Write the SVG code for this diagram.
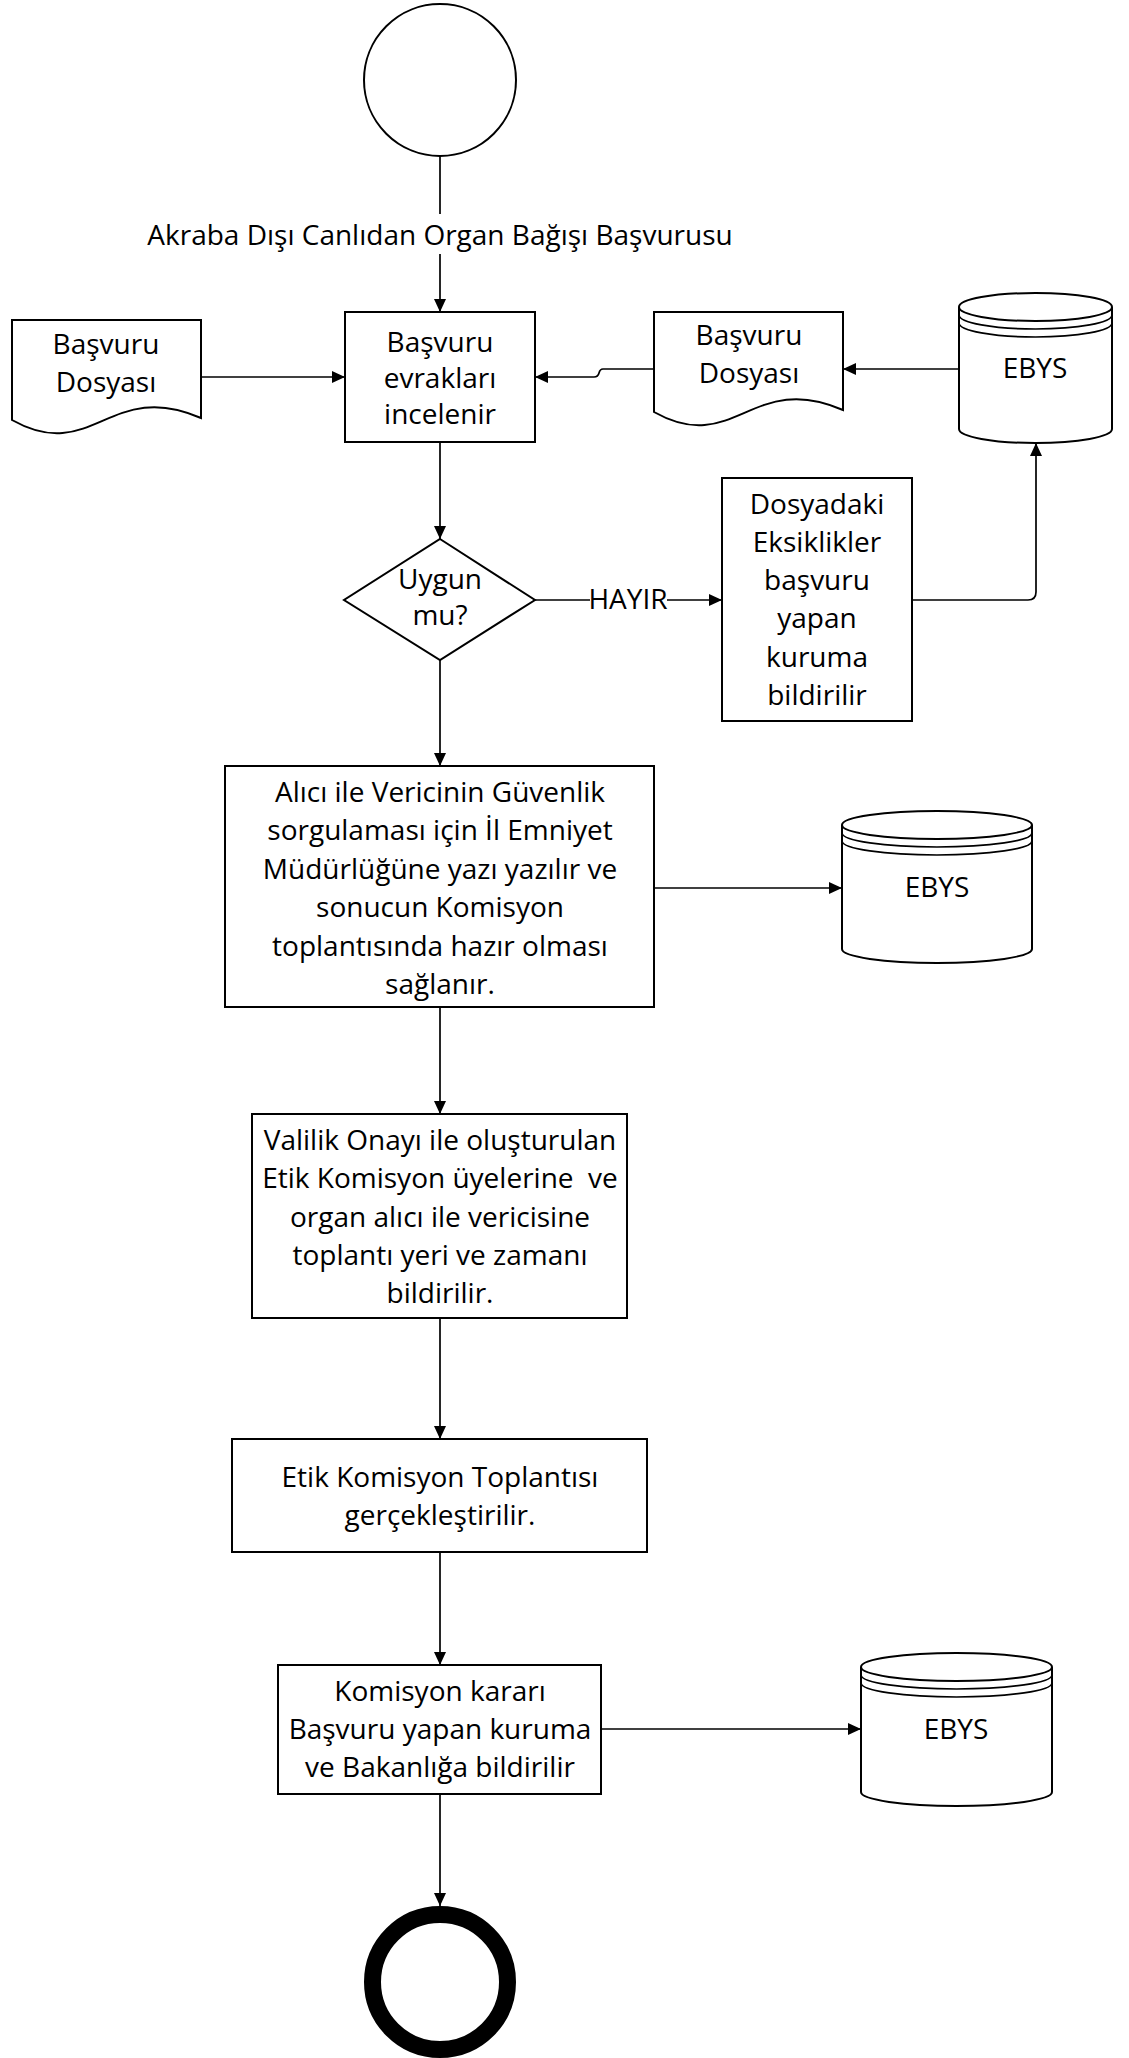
<svg xmlns="http://www.w3.org/2000/svg" width="1129" height="2058" viewBox="0 0 1129 2058">
<style>
.shape{fill:#fff;stroke:#000;stroke-width:2}
.line{fill:none;stroke:#000;stroke-width:1.7}
.t{font-family:"Open Sans","Liberation Sans",sans-serif;font-size:28px;fill:#000;text-anchor:middle;white-space:pre}
</style>
<defs>
<marker id="arr" markerUnits="userSpaceOnUse" markerWidth="13" markerHeight="12" refX="13" refY="6" orient="auto">
<path d="M0,0 L13,6 L0,12 Z" fill="#000"/>
</marker>
<path id="doc" d="M0,0 H189 V98 C98,58 80,145 0,100 Z"/>
</defs>
<rect width="1129" height="2058" fill="#fff"/>

<g id="connectors">
<path class="line" d="M440,156 V214"/>
<path class="line" d="M440,254 V312" marker-end="url(#arr)"/>
<path class="line" d="M201,377 H345" marker-end="url(#arr)"/>
<path class="line" d="M959,369 H843" marker-end="url(#arr)"/>
<path class="line" d="M654,369 H603 Q600,369 599,373 Q598,377 594,377 H535" marker-end="url(#arr)"/>
<path class="line" d="M440,442 V539" marker-end="url(#arr)"/>
<path class="line" d="M535,600 H590"/>
<path class="line" d="M667,600 H722" marker-end="url(#arr)"/>
<path class="line" d="M912,600 H1028 Q1036,600 1036,592 V443" marker-end="url(#arr)"/>
<path class="line" d="M440,660 V766" marker-end="url(#arr)"/>
<path class="line" d="M654,888 H842" marker-end="url(#arr)"/>
<path class="line" d="M440,1007 V1114" marker-end="url(#arr)"/>
<path class="line" d="M440,1318 V1439" marker-end="url(#arr)"/>
<path class="line" d="M440,1552 V1665" marker-end="url(#arr)"/>
<path class="line" d="M601,1729 H861" marker-end="url(#arr)"/>
<path class="line" d="M440,1794 V1906" marker-end="url(#arr)"/>
<text class="t" x="628" y="609">HAYIR</text>
</g>

<g id="start">
<circle class="shape" cx="440" cy="80" r="76" stroke-width="1.7"/>
</g>

<g id="label-basvuru">
<text class="t" x="440" y="245">Akraba Dışı Canlıdan Organ Bağışı Başvurusu</text>
</g>

<g id="doc-left">
<use href="#doc" class="shape" transform="translate(12,320)"/>
<text class="t" x="106" y="354">Başvuru</text>
<text class="t" x="106" y="392">Dosyası</text>
</g>

<g id="box-inceleme">
<rect class="shape" x="345" y="312" width="190" height="130"/>
<text class="t" x="440" y="352">Başvuru</text>
<text class="t" x="440" y="388">evrakları</text>
<text class="t" x="440" y="424">incelenir</text>
</g>

<g id="doc-right">
<use href="#doc" class="shape" transform="translate(654,312)"/>
<text class="t" x="749" y="345">Başvuru</text>
<text class="t" x="749" y="383">Dosyası</text>
</g>

<g id="ebys-1">
<path class="shape" d="M959,307 V429 A76.5,14 0 0 0 1112,429 V307"/>
<ellipse class="shape" cx="1035.5" cy="307" rx="76.5" ry="14"/>
<path class="line" stroke-width="2" d="M959,315 A76.5,14 0 0 0 1112,315 M959,323 A76.5,14 0 0 0 1112,323"/>
<text class="t" x="1035" y="378">EBYS</text>
</g>

<g id="decision">
<path class="shape" d="M440,539 L535,600 L440,660 L344,600 Z"/>
<text class="t" x="440" y="589">Uygun</text>
<text class="t" x="440" y="625">mu?</text>
</g>

<g id="box-eksik">
<rect class="shape" x="722" y="478" width="190" height="243"/>
<text class="t" x="817" y="514">Dosyadaki</text>
<text class="t" x="817" y="552">Eksiklikler</text>
<text class="t" x="817" y="590">başvuru</text>
<text class="t" x="817" y="628">yapan</text>
<text class="t" x="817" y="667">kuruma</text>
<text class="t" x="817" y="705">bildirilir</text>
</g>

<g id="box-guvenlik">
<rect class="shape" x="225" y="766" width="429" height="241"/>
<text class="t" x="440" y="802">Alıcı ile Vericinin Güvenlik</text>
<text class="t" x="440" y="840">sorgulaması için İl Emniyet</text>
<text class="t" x="440" y="879">Müdürlüğüne yazı yazılır ve</text>
<text class="t" x="440" y="917">sonucun Komisyon</text>
<text class="t" x="440" y="956">toplantısında hazır olması</text>
<text class="t" x="440" y="994">sağlanır.</text>
</g>

<g id="ebys-2">
<path class="shape" d="M842,825 V949 A95,14 0 0 0 1032,949 V825"/>
<ellipse class="shape" cx="937" cy="825" rx="95" ry="14"/>
<path class="line" stroke-width="2" d="M842,833 A95,14 0 0 0 1032,833 M842,841 A95,14 0 0 0 1032,841"/>
<text class="t" x="937" y="897">EBYS</text>
</g>

<g id="box-valilik">
<rect class="shape" x="252" y="1114" width="375" height="204"/>
<text class="t" x="440" y="1150">Valilik Onayı ile oluşturulan</text>
<text class="t" x="440" y="1188" xml:space="preserve">Etik Komisyon üyelerine  ve</text>
<text class="t" x="440" y="1227">organ alıcı ile vericisine</text>
<text class="t" x="440" y="1265">toplantı yeri ve zamanı</text>
<text class="t" x="440" y="1303">bildirilir.</text>
</g>

<g id="box-toplanti">
<rect class="shape" x="232" y="1439" width="415" height="113"/>
<text class="t" x="440" y="1487">Etik Komisyon Toplantısı</text>
<text class="t" x="440" y="1525">gerçekleştirilir.</text>
</g>

<g id="box-karar">
<rect class="shape" x="278" y="1665" width="323" height="129"/>
<text class="t" x="440" y="1701">Komisyon kararı</text>
<text class="t" x="440" y="1739">Başvuru yapan kuruma</text>
<text class="t" x="440" y="1777">ve Bakanlığa bildirilir</text>
</g>

<g id="ebys-3">
<path class="shape" d="M861,1667 V1792 A95.5,14 0 0 0 1052,1792 V1667"/>
<ellipse class="shape" cx="956.5" cy="1667" rx="95.5" ry="14"/>
<path class="line" stroke-width="2" d="M861,1675 A95.5,14 0 0 0 1052,1675 M861,1683 A95.5,14 0 0 0 1052,1683"/>
<text class="t" x="956" y="1739">EBYS</text>
</g>

<g id="end">
<circle cx="440" cy="1982" r="67.5" fill="#fff" stroke="#000" stroke-width="17"/>
</g>
</svg>
